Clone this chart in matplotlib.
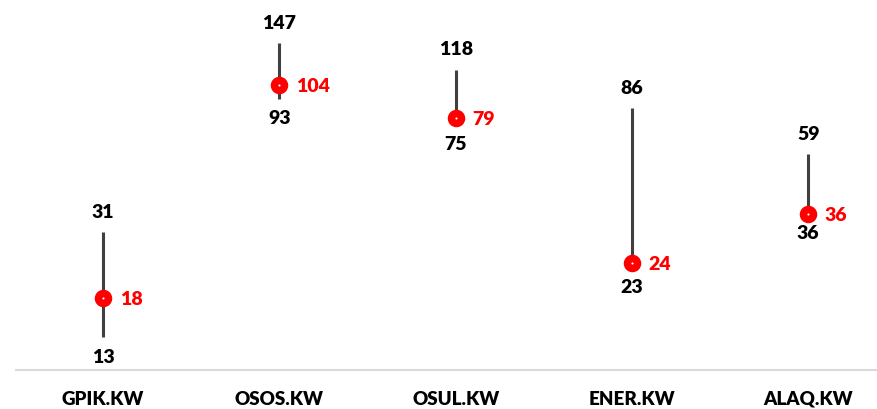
import numpy as np
import matplotlib
matplotlib.use("Agg")
import matplotlib.pyplot as plt

plt.rcParams['font.family'] = ['Lato', 'DejaVu Sans']

tickers = ['GPIK.KW', 'OSOS.KW', 'OSUL.KW', 'ENER.KW', 'ALAQ.KW']
high = [31, 147, 118, 86, 59]
low = [13, 93, 75, 23, 36]
current = [18, 104, 79, 24, 36]

fig = plt.figure(figsize=(8.77, 4.09), dpi=100)
# axes placed in pixel terms: left edge 16px, bottom axis line at 370px from top
ax = fig.add_axes([16 / 877, (409 - 370) / 409, 1 - 16 / 877, (370 - 10) / 409])

x = np.arange(len(tickers))
ax.vlines(x, low, high, color='#404040', linewidth=2.2, zorder=2)
ax.plot(x, current, linestyle='none', marker='o', markersize=7.2,
        markerfacecolor='white', markeredgecolor='#ff0000', markeredgewidth=5.4, zorder=3)

for xi, h, l, c in zip(x, high, low, current):
    ax.annotate(str(h), (xi, h), xytext=(0, 8), textcoords='offset points',
                ha='center', va='bottom', fontsize=14, fontweight='heavy', color='black')
    ax.annotate(str(l), (xi, l), xytext=(0, -8), textcoords='offset points',
                ha='center', va='top', fontsize=14, fontweight='heavy', color='black')
    ax.annotate(str(c), (xi, c), xytext=(12, 0), textcoords='offset points',
                ha='left', va='center_baseline', fontsize=14, fontweight='heavy', color='#ff0000')

ax.set_yscale('log')
ax.set_ylim(9.94, 192.8)
ax.set_xlim(-0.494, 4.39)

ax.set_xticks(x)
ax.set_xticklabels(tickers, fontsize=13.5, fontweight='heavy')
ax.tick_params(axis='x', length=0, pad=15)
ax.set_yticks([])
ax.yaxis.set_minor_locator(matplotlib.ticker.NullLocator())

for side in ['top', 'right', 'left']:
    ax.spines[side].set_visible(False)
ax.spines['bottom'].set_color('#d9d9d9')
ax.spines['bottom'].set_linewidth(1.5)

fig.savefig('out.png', dpi=100)
